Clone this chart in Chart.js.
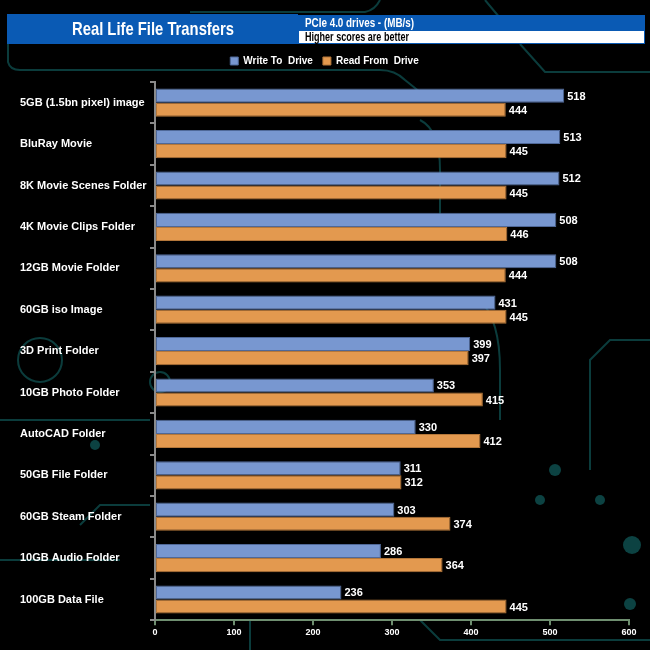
<!DOCTYPE html>
<html>
<head>
<meta charset="utf-8">
<script src="https://cdn.jsdelivr.net/npm/chart.js@4.4.1/dist/chart.umd.min.js"></script>
<style>
  html, body { margin: 0; padding: 0; background: #000; }
  #wrap { width: 650px; height: 650px; }
</style>
</head>
<body>
<div id="wrap"><canvas id="myChart" width="650" height="650"></canvas></div>
<script>
// 데이터
const categories = [
  "5GB (1.5bn pixel) image",
  "BluRay Movie",
  "8K Movie Scenes Folder",
  "4K Movie Clips Folder",
  "12GB Movie Folder",
  "60GB iso Image",
  "3D Print Folder",
  "10GB Photo Folder",
  "AutoCAD Folder",
  "50GB File Folder",
  "60GB Steam Folder",
  "10GB Audio Folder",
  "100GB Data File",
];
const writeValues = [518, 513, 512, 508, 508, 431, 399, 353, 330, 311, 303, 286, 236];
const readValues = [444, 445, 445, 446, 444, 445, 397, 415, 412, 312, 374, 364, 445];
const xTicks = [0, 100, 200, 300, 400, 500, 600];

const FONT = "'Liberation Sans', Arial, sans-serif";

// 좁은 글씨 (가로로 눌러서 그림)
function fillNarrow(c, text, x, y, width) {
  const w = c.measureText(text).width;
  const s = Math.min(1, width / w);
  c.save();
  c.translate(x, y);
  c.scale(s, 1);
  c.fillText(text, 0, 0);
  c.restore();
}

// 배경 + 제목 박스
const headerPlugin = {
  id: "header",
  beforeInit(chart) {
    // 범례 아래 여백 추가
    const fit = chart.legend.fit;
    chart.legend.fit = function () {
      fit.bind(chart.legend)();
      this.height += 6;
    };
  },
  beforeDraw(chart) {
    const c = chart.ctx;
    c.save();
    c.fillStyle = "#000";
    c.fillRect(0, 0, chart.width, chart.height);

    // 회로 모양 장식 (배경)
    c.strokeStyle = "rgba(20, 110, 110, 0.55)";
    c.lineWidth = 2;
    c.beginPath();
    c.moveTo(8, 14); c.lineTo(8, 62); c.quadraticCurveTo(10, 70, 20, 70); c.lineTo(380, 70);
    c.quadraticCurveTo(395, 70, 405, 80); c.lineTo(430, 100);
    c.moveTo(380, 0); c.quadraticCurveTo(375, 10, 365, 12); c.lineTo(190, 12);
    c.moveTo(485, 0); c.lineTo(500, 18);
    c.moveTo(520, 44); c.lineTo(545, 72); c.lineTo(650, 72);
    c.moveTo(650, 340); c.lineTo(610, 340); c.lineTo(590, 360); c.lineTo(590, 470);
    c.moveTo(0, 420); c.lineTo(150, 420);
    c.moveTo(0, 560); c.lineTo(120, 560);
    c.moveTo(420, 120); c.quadraticCurveTo(440, 130, 440, 170); c.lineTo(440, 230);
    c.moveTo(480, 300); c.quadraticCurveTo(500, 320, 500, 370); c.lineTo(500, 420);
    c.moveTo(150, 505); c.lineTo(100, 505); c.lineTo(80, 525);
    c.moveTo(250, 620); c.lineTo(250, 650);
    c.moveTo(420, 620); c.lineTo(440, 640); c.lineTo(650, 640);
    c.stroke();
    c.fillStyle = "rgba(20, 110, 110, 0.6)";
    [[632, 545, 9], [630, 604, 6], [555, 470, 6], [540, 500, 5], [600, 500, 5], [95, 445, 5]].forEach(function (p) {
      c.beginPath(); c.arc(p[0], p[1], p[2], 0, Math.PI * 2); c.fill();
    });
    c.beginPath(); c.arc(40, 360, 22, 0, Math.PI * 2); c.stroke();
    c.beginPath(); c.arc(160, 382, 10, 0, Math.PI * 2); c.stroke();

    // 제목 박스
    c.fillStyle = "#0a5ab4";
    c.fillRect(7, 14, 291, 30);
    c.fillRect(298, 15, 347, 16);
    c.fillStyle = "#fff";
    c.fillRect(298, 31, 347, 13);
    c.strokeStyle = "#0a5ab4";
    c.lineWidth = 1;
    c.strokeRect(298.5, 15.5, 346, 28);

    c.fillStyle = "#fff";
    c.textAlign = "left";
    c.textBaseline = "middle";
    c.font = "bold 19px " + FONT;
    fillNarrow(c, "Real Life File Transfers", 72, 30, 162);
    c.font = "bold 12px " + FONT;
    fillNarrow(c, "PCIe 4.0 drives - (MB/s)", 305, 24, 109);
    c.fillStyle = "#000";
    fillNarrow(c, "Higher scores are better", 305, 38, 104);
    c.restore();
  },
};

// 막대 끝 값 표시
const valueLabels = {
  id: "valueLabels",
  afterDatasetsDraw(chart) {
    const c = chart.ctx;
    c.save();
    c.fillStyle = "#fff";
    c.font = "bold 11px " + FONT;
    c.textAlign = "left";
    c.textBaseline = "middle";
    chart.data.datasets.forEach(function (ds, i) {
      chart.getDatasetMeta(i).data.forEach(function (bar, j) {
        c.fillText(ds.data[j], bar.x + 3, bar.y + 1);
      });
    });
    c.restore();
  },
};

const ctx = document.getElementById("myChart").getContext("2d");
const myChart = new Chart(ctx, {
  type: "bar",
  data: {
    labels: categories,
    datasets: [
      {
        label: "Write To  Drive",
        data: writeValues,
        backgroundColor: "#7897d0",
        borderColor: "#4f6898",
        borderWidth: 1,
        borderSkipped: false,
        categoryPercentage: 0.68,
        barPercentage: 1.0,
      },
      {
        label: "Read From  Drive",
        data: readValues,
        backgroundColor: "#e3994f",
        borderColor: "#b4773a",
        borderWidth: 1,
        borderSkipped: false,
        categoryPercentage: 0.68,
        barPercentage: 1.0,
      },
    ],
  },
  options: {
    indexAxis: "y",
    responsive: false,
    animation: false,
    devicePixelRatio: 1,
    layout: { padding: { top: 46, left: 20, right: 21, bottom: 10 } },
    scales: {
      x: {
        min: 0,
        max: 600,
        afterBuildTicks: function (scale) {
          scale.ticks = xTicks.map(function (v) { return { value: v }; });
        },
        grid: { drawOnChartArea: false, drawTicks: true, tickLength: 5, color: "#6f8f70", lineWidth: 2 },
        border: { color: "#6f8f70", width: 2 },
        ticks: { color: "#fff", font: { family: FONT, size: 9, weight: "bold" }, padding: 2, maxRotation: 0 },
      },
      y: {
        afterFit: function (scale) { scale.width = 135; },
        grid: { drawOnChartArea: false, drawTicks: true, tickLength: 5, color: "#8a8a8a", lineWidth: 2 },
        border: { color: "#8a8a8a", width: 2 },
        ticks: { color: "#fff", font: { family: FONT, size: 11, weight: "bold" }, crossAlign: "far", autoSkip: false },
      },
    },
    plugins: {
      legend: {
        display: true,
        position: "top",
        labels: {
          color: "#fff",
          font: { family: FONT, size: 10, weight: "bold" },
          boxWidth: 8,
          boxHeight: 8,
          padding: 10,
        },
      },
      tooltip: { enabled: false },
    },
  },
  plugins: [headerPlugin, valueLabels],
});
</script>
</body>
</html>
